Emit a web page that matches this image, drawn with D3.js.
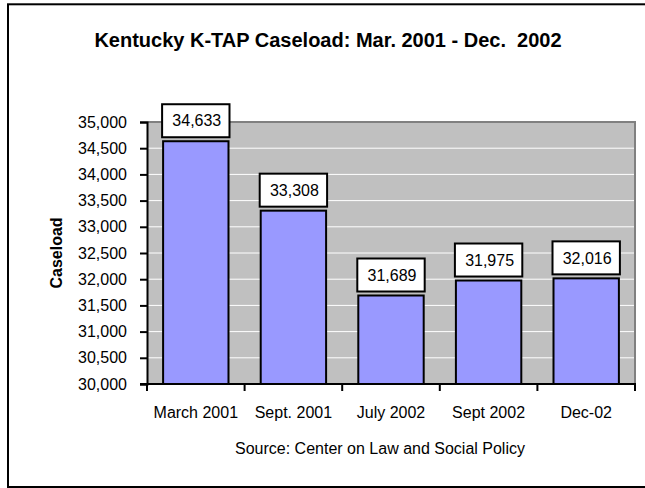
<!DOCTYPE html>
<html>
<head>
<meta charset="utf-8">
<script src="https://cdn.jsdelivr.net/npm/d3@7/dist/d3.min.js"></script>
<style>
  html, body { margin: 0; padding: 0; background: #fff; }
  svg { display: block; font-family: Arial, "Liberation Sans", sans-serif; }
</style>
</head>
<body>
<svg id="chart" width="645" height="488"></svg>
<script>
const categories = ["March 2001", "Sept. 2001", "July 2002", "Sept 2002", "Dec-02"];
const caseload = [34633, 33308, 31689, 31975, 32016];
const yTicks = [30000, 30500, 31000, 31500, 32000, 32500, 33000, 33500, 34000, 34500, 35000];
const titleText = "Kentucky K-TAP Caseload: Mar. 2001 - Dec.  2002";
const yTitle = "Caseload";
const sourceText = "Source: Center on Law and Social Policy";

const svg = d3.select("#chart");
const plot = { left: 147, right: 635, top: 122, bottom: 384 };

// outer frame
svg.append("rect")
  .attr("x", 8).attr("y", 4.3).attr("width", 640).attr("height", 482.7)
  .attr("fill", "#fff").attr("stroke", "#000").attr("stroke-width", 2);

const x = d3.scaleBand().domain(categories).range([plot.left, plot.right])
  .paddingInner(0.33).paddingOuter(0.165);
const xb = d3.scaleBand().domain(categories).range([plot.left, plot.right]).padding(0);
const y = d3.scaleLinear().domain([30000, 35000]).range([plot.bottom, plot.top]);

// plot area
svg.append("rect")
  .attr("x", plot.left).attr("y", plot.top)
  .attr("width", plot.right - plot.left).attr("height", plot.bottom - plot.top)
  .attr("fill", "#C0C0C0");

// gridlines
svg.append("g").selectAll("line").data(yTicks.filter(t => t > 30000 && t < 35000)).join("line")
  .attr("x1", plot.left).attr("x2", plot.right)
  .attr("y1", d => y(d)).attr("y2", d => y(d))
  .attr("stroke", "#fff").attr("stroke-width", 1);

// plot border (top, right) gray
svg.append("path")
  .attr("d", `M${plot.left},${plot.top}H${plot.right}V${plot.bottom}`)
  .attr("fill", "none").attr("stroke", "#808080").attr("stroke-width", 2);

// bars
svg.append("g").selectAll("rect").data(caseload).join("rect")
  .attr("x", (d, i) => x(categories[i]))
  .attr("y", d => y(d))
  .attr("width", x.bandwidth())
  .attr("height", d => y(30000) - y(d))
  .attr("fill", "#9999FF").attr("stroke", "#000").attr("stroke-width", 2);

// data labels
const lab = svg.append("g").selectAll("g").data(caseload).join("g");
lab.append("rect")
  .attr("x", (d, i) => x(categories[i]) - 1)
  .attr("y", d => y(d) - 4 - 33)
  .attr("width", x.bandwidth() + 2)
  .attr("height", 33)
  .attr("fill", "#fff").attr("stroke", "#000").attr("stroke-width", 2);
lab.append("text")
  .attr("x", (d, i) => x(categories[i]) + x.bandwidth() / 2 + 1)
  .attr("y", d => y(d) - 4 - 16.5)
  .attr("dy", "0.36em")
  .attr("text-anchor", "middle")
  .attr("font-size", 16)
  .text(d => d3.format(",")(d));

// y axis
const yAxis = d3.axisLeft(y).tickValues(yTicks).tickSize(7).tickPadding(13)
  .tickFormat(d3.format(","));
const gy = svg.append("g").attr("transform", `translate(${plot.left},0)`).call(yAxis);
gy.select(".domain").attr("stroke", "#000").attr("stroke-width", 2);
gy.selectAll(".tick line").attr("stroke", "#000").attr("stroke-width", 2);
gy.selectAll(".tick text").attr("font-size", 16).attr("font-family", "Arial, 'Liberation Sans', sans-serif").attr("fill", "#000");

// x axis
const gx = svg.append("g").attr("transform", `translate(0,${plot.bottom})`);
gx.append("line").attr("x1", plot.left - 7).attr("x2", plot.right + 1)
  .attr("y1", 0).attr("y2", 0).attr("stroke", "#000").attr("stroke-width", 2);
const tickPos = categories.map(c => xb(c)).concat([plot.right]);
gx.selectAll("line.t").data(tickPos).join("line").attr("class", "t")
  .attr("x1", d => d).attr("x2", d => d).attr("y1", 0).attr("y2", 7)
  .attr("stroke", "#000").attr("stroke-width", 2);
gx.selectAll("text").data(categories).join("text")
  .attr("x", d => xb(d) + xb.bandwidth() / 2)
  .attr("y", 34)
  .attr("text-anchor", "middle")
  .attr("font-size", 16)
  .text(d => d);

// titles
svg.append("text").attr("x", 328).attr("y", 47).attr("text-anchor", "middle")
  .attr("font-size", 20).attr("font-weight", "bold").style("white-space", "pre")
  .attr("xml:space", "preserve")
  .text(titleText);
svg.append("text")
  .attr("transform", `translate(62,${(plot.top + plot.bottom) / 2}) rotate(-90)`)
  .attr("text-anchor", "middle").attr("font-size", 16).attr("font-weight", "bold")
  .text(yTitle);
svg.append("text").attr("x", 380).attr("y", 454).attr("text-anchor", "middle")
  .attr("font-size", 16).text(sourceText);
</script>
</body>
</html>
